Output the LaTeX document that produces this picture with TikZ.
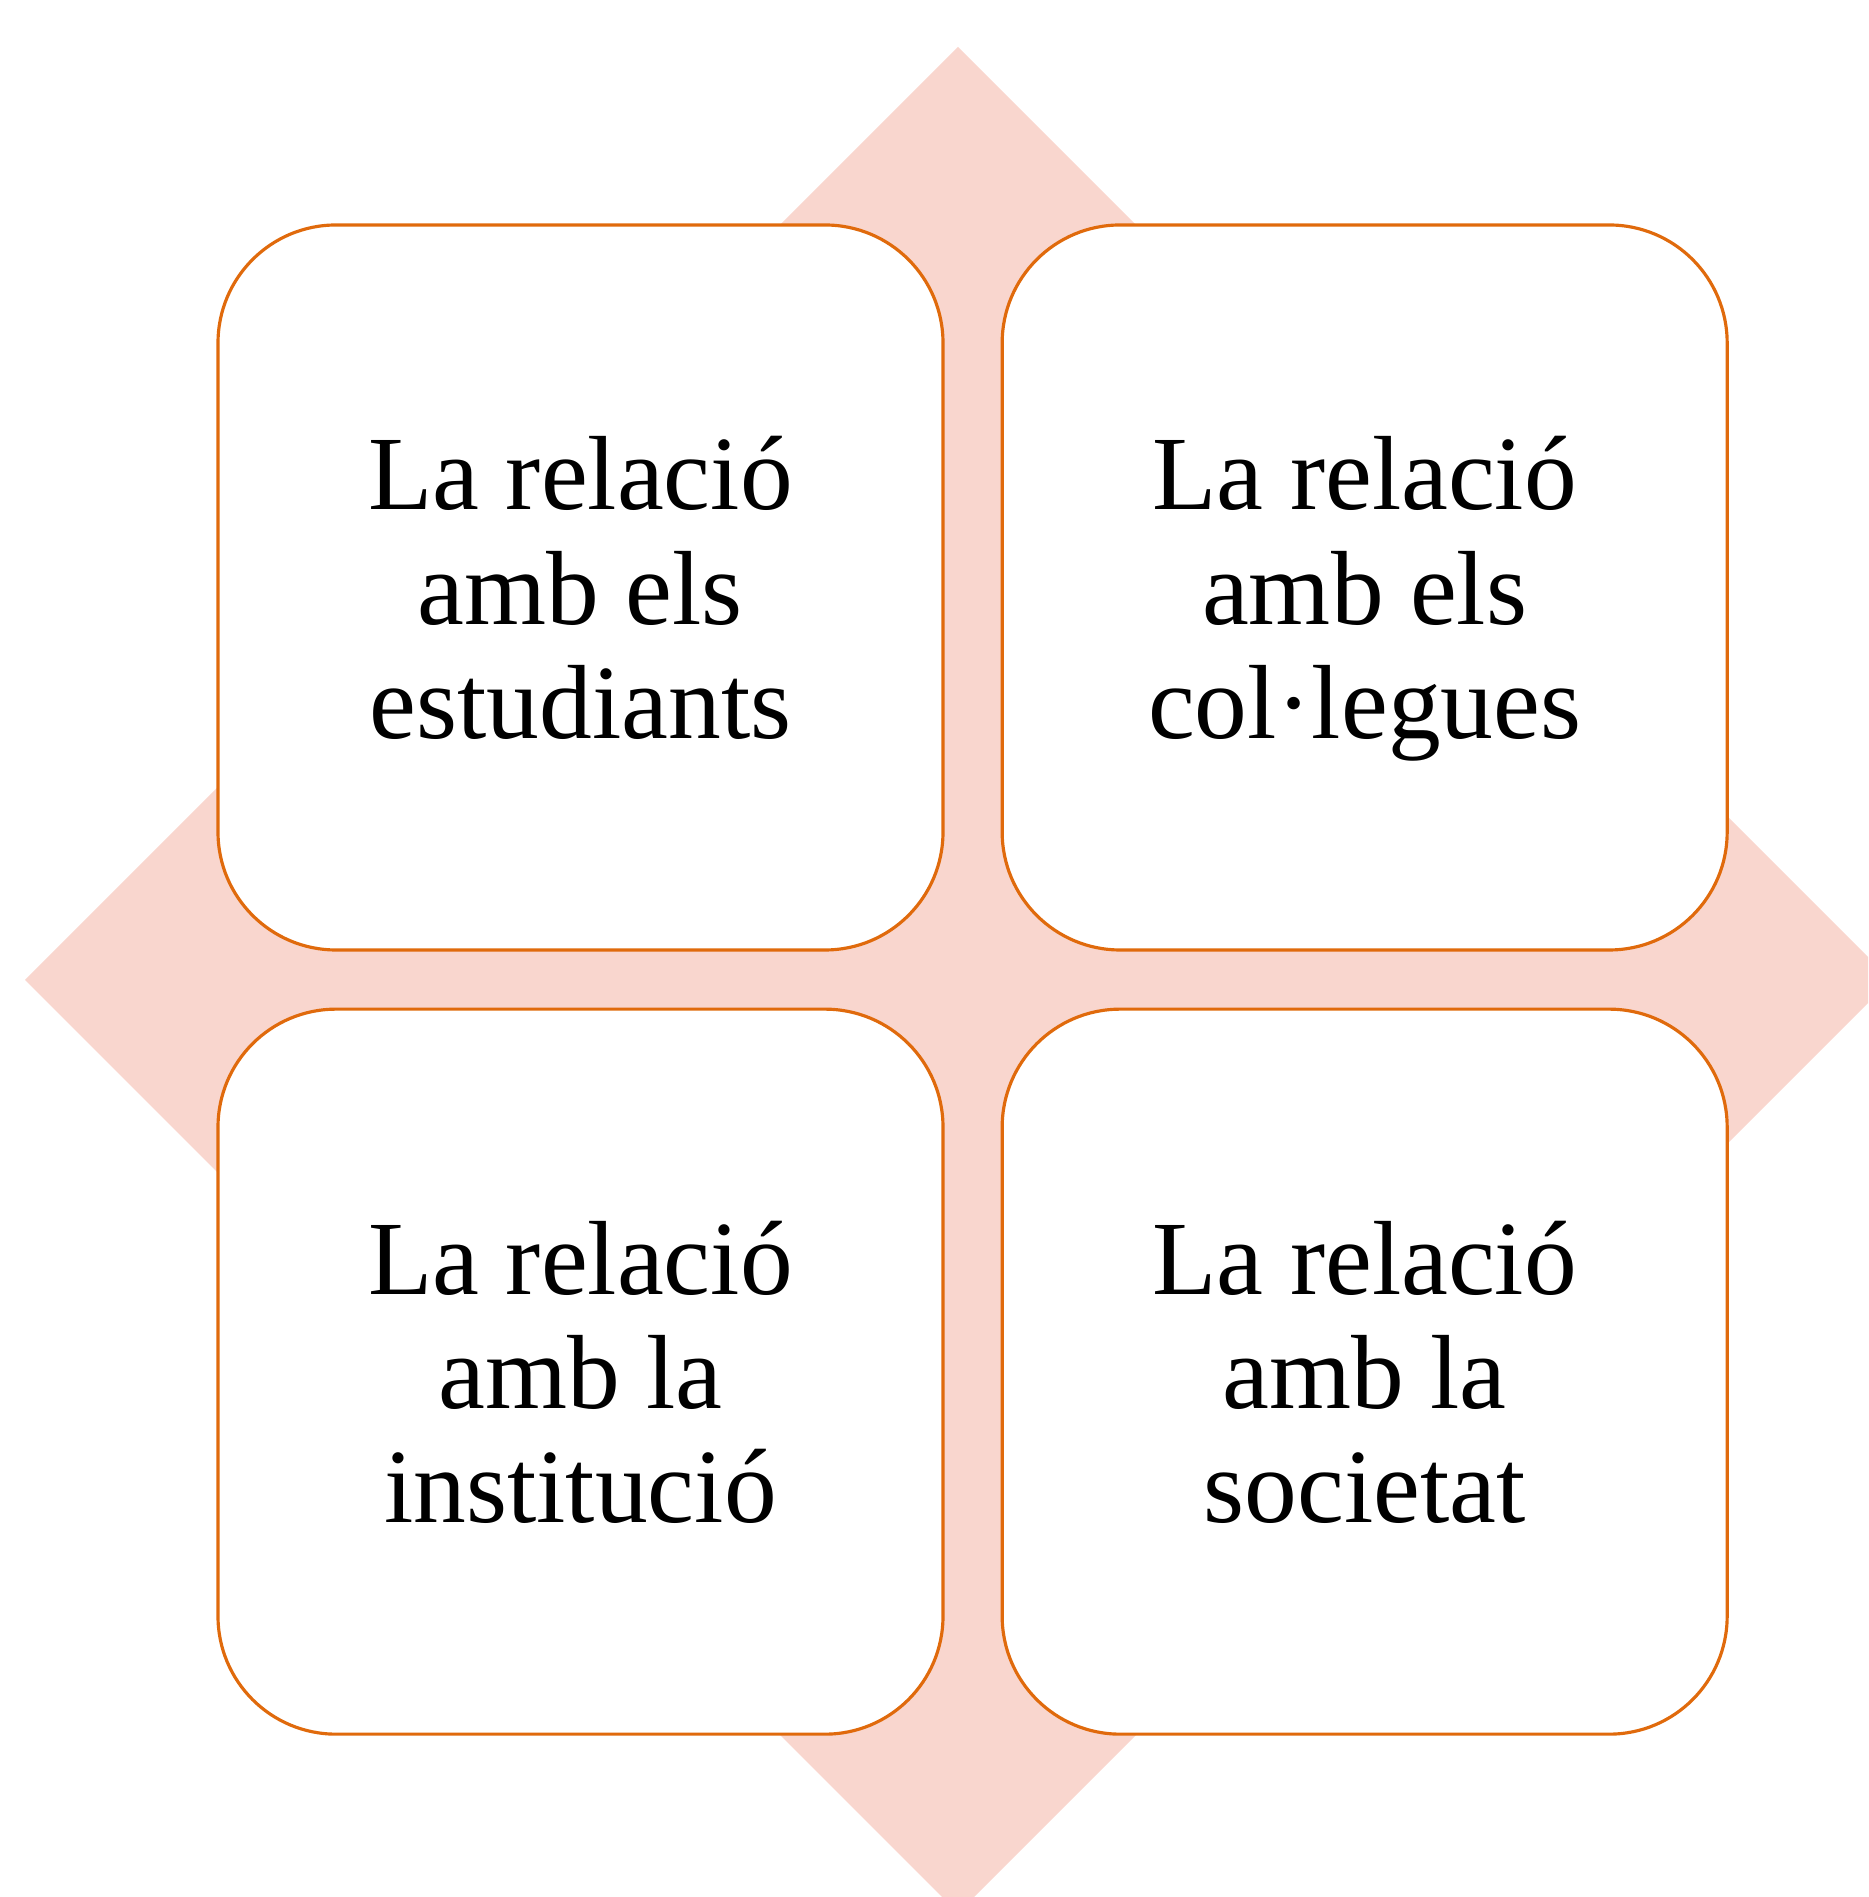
\documentclass[tikz,border=0pt]{standalone}
\usepackage{fontspec}
\setmainfont{Liberation Serif}
\usetikzlibrary{positioning}
\definecolor{boxorange}{RGB}{224,106,12}
\definecolor{diamondpink}{RGB}{249,214,206}
\tikzset{
	relbox/.style={draw=boxorange, line width=0.9pt, fill=white, rounded corners=1.18cm,
		minimum width=7.25cm, minimum height=7.25cm, inner sep=0pt, text depth=0pt,
		align=center, font=\fontsize{30}{32.5}\selectfont}
}

\begin{document}
\begin{tikzpicture}
		\useasboundingbox (0,0) rectangle (18.68,18.97);
		% Background diamond
		\begin{scope}
			\clip (0,0) rectangle (18.68,18.97);
			\fill[diamondpink] (9.58,18.50) -- (18.91,9.17) -- (9.58,-0.16) -- (0.25,9.17) -- cycle;
		\end{scope}
		% Boxes
		\node[relbox] (estudiants) at (5.805,13.095) {La relació\\amb els\\estudiants};
		\node[relbox, right=0.56cm of estudiants] (collegues) {La relació\\amb els\\col·legues};
		\node[relbox, below=0.56cm of estudiants] (institucio) {La relació\\amb la\\institució};
		\node[relbox, right=0.56cm of institucio] (societat) {La relació\\amb la\\societat};
	\end{tikzpicture}
\end{document}
